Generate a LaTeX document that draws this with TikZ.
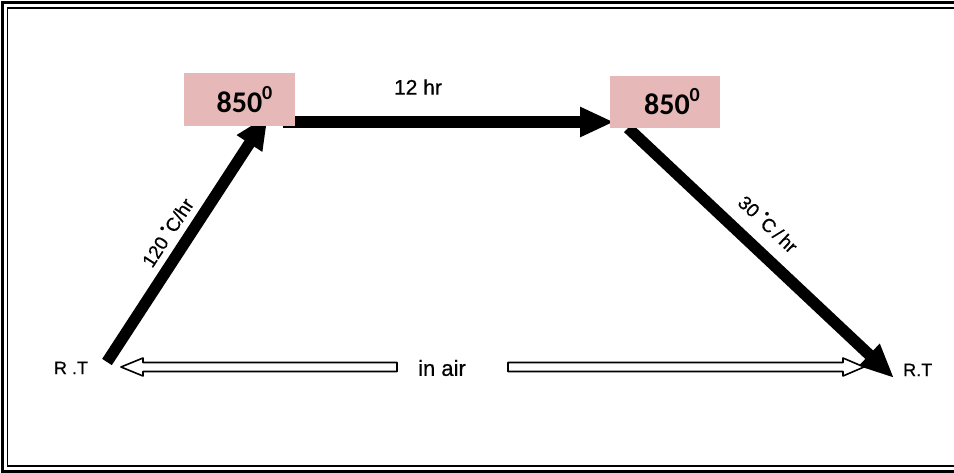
\documentclass[tikz,border=0pt]{standalone}
\usepackage{fontspec}
\setmainfont{Liberation Sans}[FakeBold=0.6]
\newfontfamily\boxfont{Carlito}
\usetikzlibrary{arrows.meta,calc}

\definecolor{boxpink}{HTML}{E6B8B7}
% temperature with a raised zero
\newcommand\tempmark{850\raisebox{13pt}{\fontsize{20}{20}\selectfont 0}}
% small raised dot standing for the degree sign
\newcommand\degdot{\raisebox{0.5em}{\fontsize{13}{13}\selectfont\textbullet}}
\tikzset{
  frameouter/.style={draw=black,line width=3pt},
  frameinner/.style={draw=black,line width=1.8pt},
  pinkbox/.style={fill=boxpink,draw=none,minimum width=111pt,minimum height=53pt,
    inner sep=0pt,font=\boxfont\bfseries\fontsize{30}{30}\selectfont},
  heavyarrow/.style={draw=black,line width=11.5pt,
    -{Triangle[length=34pt,width=28pt]}},
  hollowarrow/.style={draw=black,line width=1.6pt,fill=white,line join=round},
  lbl/.style={font=\fontsize{18}{18}\selectfont,inner sep=1pt},
  ratelbl/.style={font=\fontsize{19}{19}\selectfont,inner sep=1pt,sloped}
}

\begin{document}
\begin{tikzpicture}[x=1pt,y=-1pt]
\useasboundingbox (0,0) rectangle (954,473);
\fill[white] (0,0) rectangle (954,473);

% double frame, running off the right edge
\draw[frameouter] (2,2.5) rectangle (990,471);
\draw[frameinner] (7.5,7.8) rectangle (990,465.6);

% end points of the heavy arrows
\coordinate (startL) at (107,362);
\coordinate (topL)   at (268,115);
\coordinate (holdA)  at (283,122);
\coordinate (holdB)  at (614,122);
\coordinate (coolA)  at (628,128);
\coordinate (coolB)  at (894,378);

% heating ramp, hold, cooling ramp
\draw[heavyarrow] (startL) -- node[ratelbl,pos=0.48,above=6pt]{120 \degdot C/hr} (topL);
\draw[heavyarrow] (holdA) -- (holdB);
\draw[heavyarrow] (coolA) -- node[ratelbl,pos=0.46,above=12pt]{30 \degdot C\,/\,hr} (coolB);

% temperature boxes
\node[pinkbox] (hotA) at (239.5,99.5) {\kern10pt\tempmark};
\node[pinkbox,minimum width=110pt,minimum height=52pt] (hotB) at (665,102)
  {\kern14pt\raisebox{-3pt}{\tempmark}};

% text labels
\node[lbl,font=\fontsize{21}{21}\selectfont] (holdtime) at (418,87) {12 hr};
\node[lbl] (rtA) at (71,368) {R .T};
\node[lbl,font=\fontsize{22}{22}\selectfont] (air) at (442,368) {in air};
\node[lbl,anchor=west] (rtB) at (902,370) {R.T};

% tips and tails of the hollow arrows
\coordinate (airTipL) at (121,367);
\coordinate (airTipR) at (864,367);
\coordinate (airTailL) at (397,367);
\coordinate (airTailR) at (508,367);

% hollow arrows: atmosphere over the whole cycle
\draw[hollowarrow] ($(airTailL)+(0,-4.5)$)
  -- ($(airTipL)+(22,-4.5)$) -- ($(airTipL)+(22,-9)$)
  -- (airTipL) -- ($(airTipL)+(22,9)$)
  -- ($(airTipL)+(22,4.5)$) -- ($(airTailL)+(0,4.5)$) -- cycle;
\draw[hollowarrow] ($(airTailR)+(0,-4.5)$)
  -- ($(airTipR)+(-21,-4.5)$) -- ($(airTipR)+(-21,-9)$)
  -- (airTipR) -- ($(airTipR)+(-21,9)$)
  -- ($(airTipR)+(-21,4.5)$) -- ($(airTailR)+(0,4.5)$) -- cycle;
\end{tikzpicture}
\end{document}
